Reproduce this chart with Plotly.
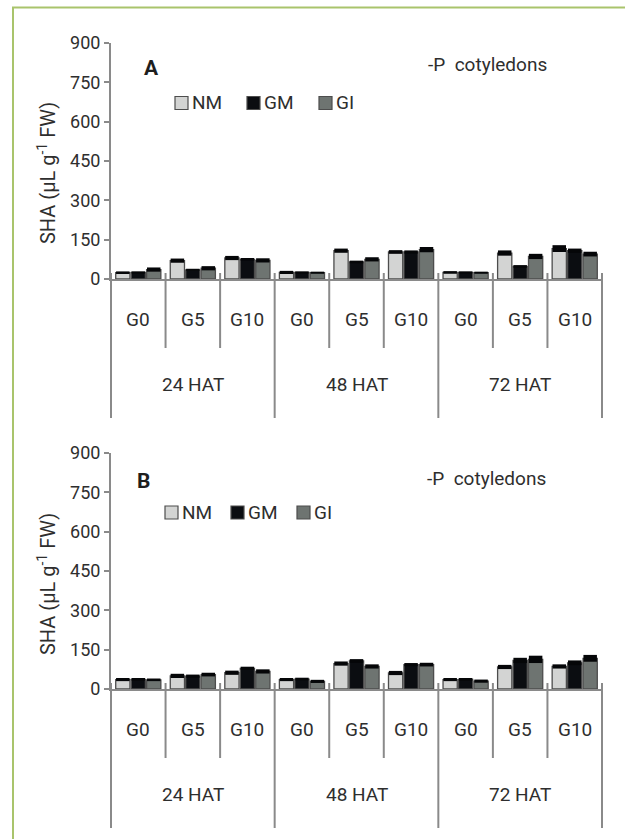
import plotly.graph_objects as go

# ---------------- data ----------------
hats = ["24 HAT", "48 HAT", "72 HAT"]
doses = ["G0", "G5", "G10"]
series = ["NM", "GM", "GI"]
colors = {"NM": "#d3d4d3", "GM": "#0b0d11", "GI": "#6e7471"}

# Panel A (-P cotyledons)
A_NM = [24, 70, 80, 25, 108, 103, 25, 99, 116]
A_NM_err = [5, 8, 8, 6, 8, 7, 5, 10, 13]
A_GM = [25, 35, 75, 25, 65, 103, 25, 48, 108]
A_GM_err = [4, 4, 5, 4, 5, 6, 4, 5, 8]
A_GI = [36, 41, 71, 24, 75, 112, 24, 86, 95]
A_GI_err = [8, 8, 8, 4, 8, 10, 4, 10, 9]

# Panel B (-P cotyledons)
B_NM = [36, 50, 62, 36, 97, 61, 36, 84, 86]
B_NM_err = [6, 8, 8, 6, 8, 8, 6, 8, 8]
B_GM = [37, 49, 79, 38, 107, 93, 37, 109, 100]
B_GM_err = [5, 6, 6, 5, 7, 6, 5, 10, 9]
B_GI = [35, 55, 67, 29, 86, 93, 30, 113, 117]
B_GI_err = [5, 7, 8, 6, 8, 7, 6, 14, 13]

y_ticks = [0, 150, 300, 450, 600, 750, 900]

cats = [f"{h}|{d}" for h in hats for d in doses]

# ---------------- layout helpers (pixel -> paper) ----------------
W, H = 625, 839
L, R, T, B = 111, 23, 43, 150
PW = W - L - R
PH = H - T - B
def xp(X):
    return (X - L) / PW
def yp(Y):
    return (H - B - Y) / PH

domA = [yp(279), 1.0]
domB = [0.0, yp(453)]

AXC = "#8a8a8a"
TXT = "#2e2e2e"
FONT = "Roboto"

fig = go.Figure()

panels = [
    ("x", "y", {"NM": (A_NM, A_NM_err), "GM": (A_GM, A_GM_err), "GI": (A_GI, A_GI_err)}),
    ("x2", "y2", {"NM": (B_NM, B_NM_err), "GM": (B_GM, B_GM_err), "GI": (B_GI, B_GI_err)}),
]
for xa, ya, data in panels:
    for s in series:
        vals, errs = data[s]
        fig.add_trace(go.Bar(
            x=cats, y=vals, name=s, xaxis=xa, yaxis=ya,
            marker=dict(color=colors[s], line=dict(color="#4d4d4d", width=1.3)),
            error_y=dict(type="data", array=errs, visible=True, color="#050608",
                         thickness=13.5, width=0),
            showlegend=False,
        ))

axis_common_x = dict(type="category", range=[-0.5, 8.5], showline=True, linecolor=AXC,
                     linewidth=2, showticklabels=False, ticks="", showgrid=False,
                     zeroline=False, fixedrange=True)
axis_common_y = dict(range=[0, 900], tickvals=y_ticks, ticks="outside", ticklen=5,
                     tickcolor=AXC, tickwidth=1.5, showline=True, linecolor=AXC,
                     linewidth=2, showgrid=False, zeroline=False,
                     tickfont=dict(family=FONT, size=18, color=TXT))

fig.update_layout(
    width=W, height=H,
    margin=dict(l=L, r=R, t=T, b=B, pad=0),
    paper_bgcolor="white", plot_bgcolor="white",
    barmode="group", bargap=0.15, bargroupgap=0.08,
    showlegend=False,
    xaxis=dict(domain=[0, 1], anchor="y", **axis_common_x),
    yaxis=dict(domain=domA, anchor="x", **axis_common_y),
    xaxis2=dict(domain=[0, 1], anchor="y2", **axis_common_x),
    yaxis2=dict(domain=domB, anchor="x2", **axis_common_y),
    font=dict(family=FONT, color=TXT),
)

annotations = []
shapes = []

panel_info = [
    ("x", 279, (151, 68), "A", (487, 65), [175, 247, 319], 103, 173),
    ("x2", 689, (143, 481), "B", (486, 478), [165, 231, 297], 512.5, 584),
]
for xref, zY, (lx, ly), letter, (cx, cy), sqx, legy, ytc in panel_info:
    # category labels
    for i, c in enumerate(cats):
        annotations.append(dict(x=c, xref=xref, y=yp(zY + 40), yref="paper",
                                text=c.split("|")[1], showarrow=False,
                                font=dict(family=FONT, size=19, color=TXT),
                                xanchor="center", yanchor="middle"))
    for k, h in enumerate(hats):
        annotations.append(dict(x=cats[3 * k + 1], xref=xref, y=yp(zY + 105), yref="paper",
                                text=h.replace(" ", "\u00a0"), showarrow=False,
                                font=dict(family=FONT, size=19, color=TXT),
                                xanchor="center", yanchor="middle"))
    # separators
    for i in range(10):
        xx = i / 9
        outer = (i % 3 == 0)
        y_end = zY + (139 if outer else 69)
        shapes.append(dict(type="line", xref="paper", yref="paper",
                           x0=xx, x1=xx, y0=yp(zY - 6), y1=yp(y_end),
                           line=dict(color=AXC, width=2)))
    # panel letter
    annotations.append(dict(x=xp(lx), y=yp(ly), xref="paper", yref="paper",
                            text=f"<b>{letter}</b>", showarrow=False,
                            font=dict(family=FONT, size=21, color="#1e1e1e"),
                            xanchor="center", yanchor="middle"))
    # condition label
    annotations.append(dict(x=xp(cx), y=yp(cy), xref="paper", yref="paper",
                            text="-P\u00a0\u00a0cotyledons", showarrow=False,
                            font=dict(family=FONT, size=19, color=TXT),
                            xanchor="center", yanchor="middle"))
    # legend
    for s, sx in zip(series, sqx):
        shapes.append(dict(type="rect", xref="paper", yref="paper",
                           x0=xp(sx), x1=xp(sx + 13), y0=yp(legy + 6.5), y1=yp(legy - 6.5),
                           fillcolor=colors[s], line=dict(color="#4d4d4d", width=1.2)))
        annotations.append(dict(x=xp(sx + 15), y=yp(legy), xref="paper", yref="paper",
                                text=s, showarrow=False,
                                font=dict(family=FONT, size=19, color=TXT),
                                xanchor="left", yanchor="middle"))
    # y-axis title
    annotations.append(dict(x=xp(47), y=yp(ytc), xref="paper", yref="paper",
                            text="SHA (µL g<sup>-1</sup> FW)", textangle=-90,
                            showarrow=False, font=dict(family=FONT, size=20, color=TXT),
                            xanchor="center", yanchor="middle"))

# outer frame (left and top edges)
shapes.append(dict(type="line", xref="paper", yref="paper",
                   x0=xp(13), x1=xp(13), y0=yp(H + 5), y1=yp(7.5),
                   line=dict(color="#a9c46c", width=2)))
shapes.append(dict(type="line", xref="paper", yref="paper",
                   x0=xp(12), x1=xp(W + 5), y0=yp(7.5), y1=yp(7.5),
                   line=dict(color="#a9c46c", width=2)))

fig.update_layout(annotations=annotations, shapes=shapes)

fig.write_html("out.html")
